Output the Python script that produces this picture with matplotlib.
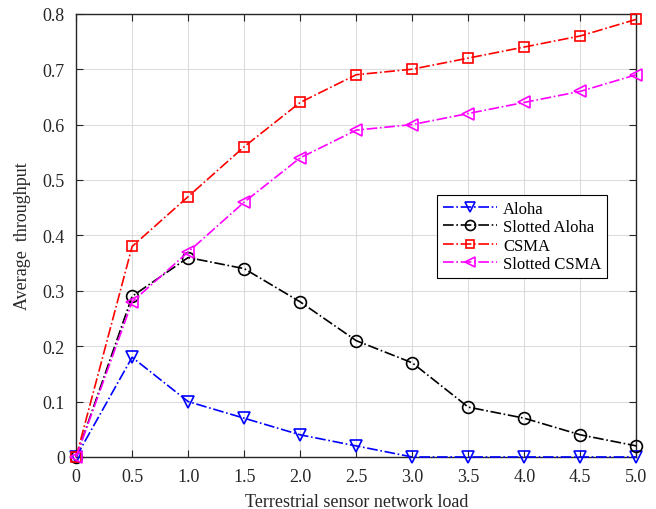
import numpy as np
import matplotlib
matplotlib.use("Agg")
import matplotlib.pyplot as plt

load = [0, 0.5, 1.0, 1.5, 2.0, 2.5, 3.0, 3.5, 4.0, 4.5, 5.0]
aloha = [0, 0.18, 0.10, 0.07, 0.04, 0.02, 0, 0, 0, 0, 0]
slotted_aloha = [0, 0.29, 0.36, 0.34, 0.28, 0.21, 0.17, 0.09, 0.07, 0.04, 0.02]
csma = [0, 0.38, 0.47, 0.56, 0.64, 0.69, 0.70, 0.72, 0.74, 0.76, 0.79]
slotted_csma = [0, 0.28, 0.37, 0.46, 0.54, 0.59, 0.60, 0.62, 0.64, 0.66, 0.69]

xticks = [0, 0.5, 1.0, 1.5, 2.0, 2.5, 3.0, 3.5, 4.0, 4.5, 5.0]
xticklabels = ["0", "0.5", "1.0", "1.5", "2.0", "2.5", "3.0", "3.5", "4.0", "4.5", "5.0"]
yticks = [0, 0.1, 0.2, 0.3, 0.4, 0.5, 0.6, 0.7, 0.8]
yticklabels = ["0", "0.1", "0.2", "0.3", "0.4", "0.5", "0.6", "0.7", "0.8"]

plt.rcParams['font.family'] = ['Liberation Serif', 'DejaVu Serif']

fig = plt.figure(figsize=(6.56, 5.10), dpi=100)
ax = fig.add_axes([0.116, 0.102, 0.854, 0.869])

ms = 8.5
kw = dict(mfc='none', mew=1.2, lw=1.2, clip_on=False, zorder=3)
ax.plot(load, aloha, 'b-.', marker='v', ms=ms, label='Aloha', **kw)
ax.plot(load, slotted_aloha, 'k-.', marker='o', ms=ms, label='Slotted Aloha', **kw)
ax.plot(load, csma, 'r-.', marker='s', ms=ms - 1, label='CSMA', **kw)
ax.plot(load, slotted_csma, '-.', color='magenta', marker='<', ms=ms, label='Slotted CSMA', **kw)

ax.set_xlim(0, 5)
ax.set_ylim(0, 0.8)
ax.set_xticks(xticks)
ax.set_xticklabels(xticklabels)
ax.set_yticks(yticks)
ax.set_yticklabels(yticklabels)
ax.tick_params(direction='in', labelsize=13, top=True, right=True, length=5,
               colors='#262626', pad=8)
ax.grid(True, color='#dcdcdc', lw=0.8)
ax.set_axisbelow(True)
for s in ax.spines.values():
    s.set_linewidth(1.0)
    s.set_color('#262626')

ax.set_xlabel('Terrestrial sensor network load', fontsize=13, color='#262626', labelpad=6)
ax.set_ylabel('Average  throughput', fontsize=13, color='#262626', labelpad=8)

leg = ax.legend(loc='lower left', bbox_to_anchor=(0.645, 0.404), fontsize=12,
                fancybox=False, edgecolor='black', framealpha=1, borderaxespad=0,
                borderpad=0.35, labelspacing=0.15, handlelength=3.2, handletextpad=0.4,
                markerscale=0.85)
leg.get_frame().set_linewidth(0.8)

fig.savefig('out.png', dpi=100)
